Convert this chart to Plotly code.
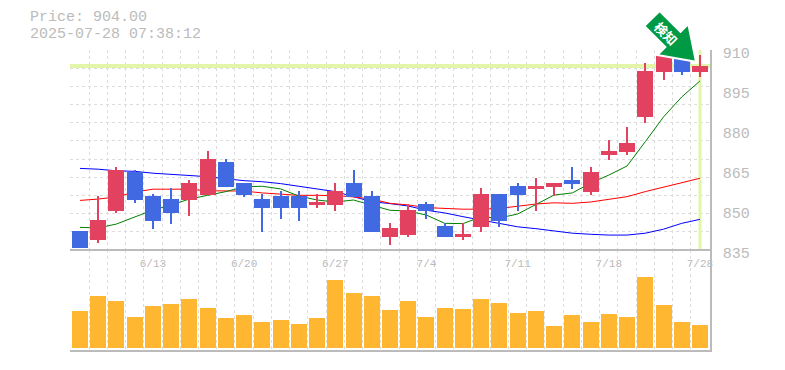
import plotly.graph_objects as go

dates = ["6/13", "6/20", "6/27", "7/4", "7/11", "7/18", "7/28"]
date_idx = [4, 9, 14, 19, 24, 29, 34]
price_ticks = [835, 850, 865, 880, 895, 910]
current_price = 904.0
header = ["Price: 904.00", "2025-07-28 07:38:12"]

opens = [842.1, 838.75, 849.6, 864.25, 855.25, 854.1, 853.75, 855.6, 868, 860.1, 854.1, 855.25, 855.25, 851.9, 851.9,
         860.1, 855.25, 839.9, 840.6, 852.25, 844, 839.9, 843.6, 856, 859, 857.9, 858.6, 861.25, 856.75, 870.6, 871.75,
         884.9, 901.75, 907, 901.75]
closes = [835.75, 846.25, 865, 853.75, 845.9, 848.9, 860.1, 869.1, 858.6, 855.6, 850.75, 850.75, 850.75, 853, 857.1,
          854.9, 841.75, 843.25, 850, 849.6, 839.9, 841, 856, 845.9, 855.6, 859, 860.1, 859.75, 864.25, 872.1, 875.1,
          902.1, 908, 901.75, 904]
highs = [842.1, 855.25, 866.1, 865, 856, 858.25, 861.25, 872.1, 869.1, 860.1, 856, 857.1, 857.1, 856, 860.1,
         865, 857.1, 845.1, 852.25, 853, 845.1, 845.1, 858.25, 856, 860.1, 862, 860.1, 866.1, 866.1, 876.25, 881.1,
         905.1, 908, 907, 908.1]
lows = [835.75, 837.6, 848.9, 852.6, 842.9, 844.75, 847.75, 855.6, 858.6, 854.9, 841.75, 846.6, 845.9, 850.75, 849.6,
        854.9, 841.75, 836.9, 839.9, 846.6, 839.9, 838.75, 841.75, 843.6, 849.6, 849.6, 855.25, 857.9, 855.6, 868.75,
        870.6, 882.6, 898.75, 900.6, 899.9]
volumes = [37, 52, 47, 31, 42, 44, 49, 40, 30, 33, 26, 28, 24, 30, 68, 55, 52, 38, 47, 31, 40, 39, 49, 45, 35, 37, 22,
           33, 26, 34, 31, 71, 43, 26, 23]
ma_green = [843.5, 843.25, 844.75, 847.4, 850, 851.9, 854.1, 855.5, 856.9, 858.7, 858.9, 857.9, 855.25, 853.75, 853,
            853.75, 851.9, 849.9, 849.6, 848.1, 845, 844.9, 847.4, 847, 848.5, 852.1, 855.6, 856.4, 860.1, 863.1,
            866.5, 875.6, 884.9, 892.4, 898.4]
ma_red = [853.6, 854.1, 854.9, 856.75, 857.8, 857.8, 857.8, 857.2, 857.2, 857.1, 856.4, 855.9, 855.5, 855.5, 855.4,
          854.9, 854.1, 852.5, 851.9, 850.9, 850.6, 850.3, 850.3, 850.6, 851.4, 852.25, 852.7, 852.5, 853, 853.9,
          855, 856.9, 858.6, 860.2, 861.9]
ma_blue = [865.6, 865.3, 864.7, 864.5, 863.8, 863.4, 862.9, 862.5, 861.7, 861, 860.6, 859.9, 858.9, 857.9, 856.9,
           855, 853.1, 852.4, 851.5, 849.9, 848.9, 847.5, 846.25, 845, 843.7, 843, 842.1, 841.3, 840.9, 840.6,
           840.6, 841.3, 842.8, 845, 846.5]

RED, BLUE, ORANGE, LIME, GRAY, GRID = "#e2415f", "#4169e1", "#ffb732", "#e3f5a8", "#bbbbbb", "#dddddd"
FONT = "Liberation Mono"
n = len(opens)
idx = list(range(n))
colors = [RED if c >= o else BLUE for o, c in zip(opens, closes)]
x_range = [-0.548, 34.55]

fig = go.Figure()
ref = dict(xaxis="x", yaxis="y", showlegend=False, hoverinfo="skip")
top = dict(xaxis="x", yaxis="y3", showlegend=False, hoverinfo="skip")
fig.add_trace(go.Scatter(x=x_range, y=[current_price] * 2, mode="lines", line=dict(color=LIME, width=4), **ref))
fig.add_trace(go.Scatter(x=[idx[-1]] * 2, y=[price_ticks[0], price_ticks[-1]], mode="lines",
                         line=dict(color=LIME, width=3), **ref))
for series, col in ((ma_blue, "#0000ff"), (ma_red, "#ff0000"), (ma_green, "#008000")):
    fig.add_trace(go.Scatter(x=idx, y=series, mode="lines", line=dict(color=col, width=1), **ref))
fig.add_trace(go.Bar(x=idx, y=[h - l for h, l in zip(highs, lows)], base=lows, width=0.11,
                     marker=dict(color=colors, line_width=0), **top))
fig.add_trace(go.Bar(x=idx, y=[abs(c - o) for o, c in zip(opens, closes)], base=[min(o, c) for o, c in zip(opens, closes)],
                     width=0.877, marker=dict(color=colors, line_width=0), **top))
fig.add_trace(go.Bar(x=idx, y=volumes, width=0.877, marker=dict(color=ORANGE, line_width=0),
                     xaxis="x2", yaxis="y2", showlegend=False, hoverinfo="skip"))
# axis that only carries the date labels
fig.add_trace(go.Scatter(x=date_idx, y=[0] * len(date_idx), mode="none", xaxis="x3", yaxis="y2", showlegend=False, hoverinfo="skip"))

DASH = "3px,3px"
grid = dict(range=x_range, tick0=-0.5, dtick=1, showgrid=True, gridcolor=GRID, griddash=DASH, gridwidth=1,
            showticklabels=False, ticks="", zeroline=False)
fig.update_layout(
    width=785, height=370, margin=dict(l=70, r=75, t=50, b=20, autoexpand=False), paper_bgcolor="white", plot_bgcolor="white",
    barmode="overlay", bargap=0,
    xaxis=dict(domain=[0, 1], anchor="y", **grid),
    xaxis2=dict(domain=[0, 1], anchor="y2", showline=True, linecolor=GRAY, linewidth=1.5, **grid),
    xaxis3=dict(domain=[0, 1], anchor="free", position=1 / 3, overlaying="x2", side="bottom", range=x_range,
                tickmode="array", tickvals=date_idx, ticktext=dates, showgrid=False, zeroline=False, ticks="",
                ticklabelstandoff=3, tickfont=dict(family=FONT, size=11, color=GRAY), showline=True, linecolor=GRAY,
                linewidth=1.5),
    yaxis=dict(domain=[1 / 3, 1], anchor="x", range=[price_ticks[0], price_ticks[-1]], tick0=price_ticks[0],
               dtick=(price_ticks[-1] - price_ticks[0]) / 11, showgrid=True, gridcolor=GRID, griddash=DASH,
               showticklabels=False, ticks="", zeroline=False),
    yaxis2=dict(domain=[0, 1 / 3], anchor="x2", side="right", range=[-2, 98], showgrid=False, showticklabels=False,
                ticks="", zeroline=False, showline=True, linecolor=GRAY, linewidth=1.5),
    yaxis3=dict(domain=[1 / 3, 1], anchor="x", overlaying="y", side="right", range=[price_ticks[0], price_ticks[-1]],
                tickmode="array", tickvals=price_ticks, ticktext=[str(v) for v in price_ticks], showgrid=False,
                zeroline=False, ticks="", showline=True, linecolor=GRAY, linewidth=1.5, ticklabelstandoff=8,
                ticklabelshift=3, tickfont=dict(family=FONT, size=15, color=GRAY)),
)

def px(x, y):
    return f"{(x - 70) / 640:.4f},{(350 - y) / 300:.4f}"

arrow = [(659.6, 11), (644.3, 26), (665.4, 47.1), (657.5, 55), (696, 61.7), (688.3, 24), (680.5, 31.9)]
fig.add_shape(type="path", xref="paper", yref="paper", layer="above",
              path="M" + " L".join(px(*p) for p in arrow) + " Z", fillcolor="#009944", line=dict(color="white", width=2))
fig.add_annotation(xref="paper", yref="paper", x=(666.3 - 70) / 640, y=(350 - 33.5) / 300, text="検知", showarrow=False,
                   textangle=45, xanchor="center", yanchor="middle",
                   font=dict(family="Noto Sans CJK JP", size=13, color="white", weight="bold"))
for line, y in zip(header, (18, 35)):
    fig.add_annotation(xref="paper", yref="paper", x=(28 - 70) / 640, y=(350 - y) / 300, text=line, showarrow=False,
                       xanchor="left", yanchor="middle", font=dict(family=FONT, size=15, color=GRAY))

fig.write_html("out.html", post_script="document.body.style.margin='0';", config=dict(displayModeBar=False))
